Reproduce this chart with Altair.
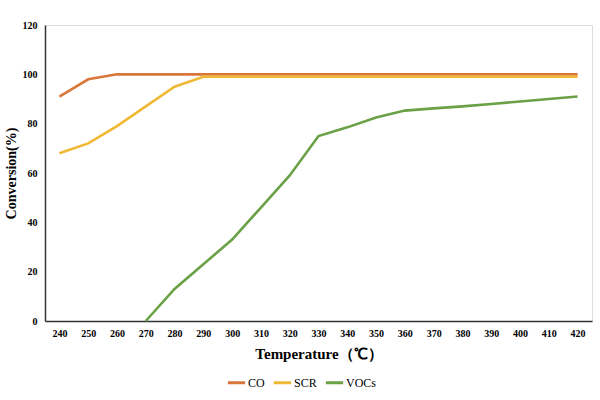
import altair as alt
import pandas as pd

# Temperature steps (°C)
temps = [240, 250, 260, 270, 280, 290, 300, 310, 320, 330,
         340, 350, 360, 370, 380, 390, 400, 410, 420]

# Conversion (%) per series
co = [91, 98, 100, 100, 100, 100, 100, 100, 100, 100,
      100, 100, 100, 100, 100, 100, 100, 100, 100]
scr = [68, 72, 79, 87, 95, 99, 99, 99, 99, 99,
       99, 99, 99, 99, 99, 99, 99, 99, 99]
vocs_temps = [270, 280, 290, 300, 310, 320, 330, 340, 350,
              360, 370, 380, 390, 400, 410, 420]
vocs = [0, 13, 23, 33, 46, 59, 75, 78.5, 82.5,
        85.3, 86.2, 87, 88, 89, 90, 91]

series = ["CO", "SCR", "VOCs"]
colors = ["#D9773A", "#F0B935", "#6AA046"]

rows = []
for t, v in zip(temps, co):
    rows.append({"T": str(t), "v": v, "s": "CO"})
for t, v in zip(temps, scr):
    rows.append({"T": str(t), "v": v, "s": "SCR"})
for t, v in zip(vocs_temps, vocs):
    rows.append({"T": str(t), "v": v, "s": "VOCs"})
df = pd.DataFrame(rows)

FONT = "Liberation Serif, Times New Roman, serif"

chart = alt.Chart(df).mark_line(strokeWidth=2.6).encode(
    x=alt.X("T:O", sort=[str(t) for t in temps],
            scale=alt.Scale(paddingInner=1, paddingOuter=0.5, domain=[str(t) for t in temps]),
            axis=alt.Axis(title="Temperature（℃）", labelAngle=0, ticks=False,
                          labelFont=FONT, labelFontWeight="bold", labelFontSize=10,
                          labelColor="#000", labelPadding=7,
                          titleFont=FONT, titleFontWeight="bold", titleFontSize=15,
                          titleColor="#000", titlePadding=8,
                          domainColor="#333", domainWidth=1.5)),
    y=alt.Y("v:Q", scale=alt.Scale(domain=[0, 120]),
            axis=alt.Axis(title="Conversion(%)", values=[0, 20, 40, 60, 80, 100, 120],
                          grid=False, ticks=False,
                          labelFont=FONT, labelFontWeight="bold", labelFontSize=10,
                          labelColor="#000", labelPadding=8,
                          titleFont=FONT, titleFontWeight="bold", titleFontSize=14,
                          titleColor="#000", titlePadding=4,
                          domainColor="#333", domainWidth=1.5)),
    color=alt.Color("s:N", scale=alt.Scale(domain=series, range=colors),
                    legend=alt.Legend(title=None, orient="none", direction="horizontal",
                                      legendX=181, legendY=347,
                                      symbolType="stroke", symbolStrokeWidth=3,
                                      symbolSize=300, columnPadding=2, labelOffset=1,
                                      labelFont=FONT, labelFontSize=12,
                                      labelColor="#000")),
).properties(
    width=547, height=296,
    autosize=alt.AutoSizeParams(type="none"),
    padding={"left": 45, "top": 25, "right": 8, "bottom": 79},
).configure_view(
    stroke="#222", strokeWidth=1.2
).configure(background="white")

chart.save("out.html", embed_options={"renderer": "svg", "actions": False})
